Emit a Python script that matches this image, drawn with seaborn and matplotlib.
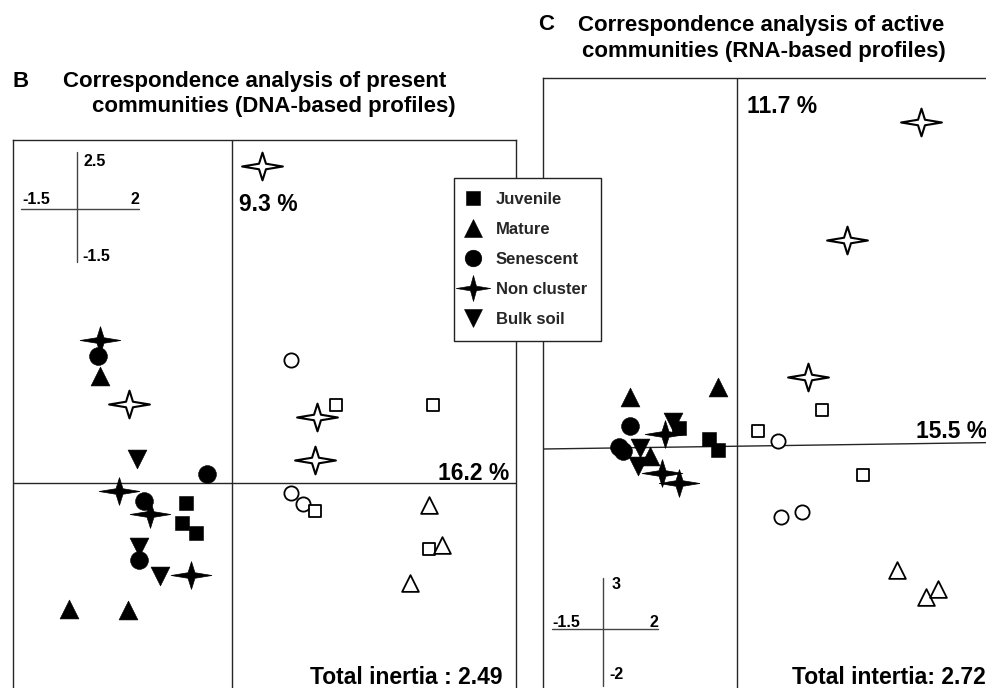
import matplotlib
matplotlib.use("Agg")
import numpy as np
import pandas as pd
import matplotlib.pyplot as plt
from matplotlib.path import Path
from matplotlib.lines import Line2D
import seaborn as sns

# ---------------- data ----------------
GROUPS = ["Juvenile", "Mature", "Senescent", "Non cluster", "Bulk soil"]

# Panel B : DNA-based profiles (CA axis 1 = 16.2 %, axis 2 = 9.3 %)
dna_group = ["Juvenile", "Juvenile", "Juvenile",
             "Mature", "Mature", "Mature",
             "Senescent", "Senescent", "Senescent", "Senescent",
             "Non cluster", "Non cluster", "Non cluster", "Non cluster",
             "Bulk soil", "Bulk soil", "Bulk soil",
             "Juvenile", "Juvenile", "Juvenile", "Juvenile",
             "Mature", "Mature", "Mature",
             "Senescent", "Senescent", "Senescent",
             "Non cluster", "Non cluster", "Non cluster", "Non cluster"]
dna_fill = ["filled"] * 17 + ["open"] * 14
dna_x = [-0.319, -0.350, -0.249,
         -0.930, -1.148, -0.730,
         -0.942, -0.178, -0.620, -0.653,
         -0.930, -0.794, -0.577, -0.284,
         -0.667, -0.653, -0.502,
         0.732, 1.413, 0.585, 1.387,
         1.389, 1.481, 1.254,
         0.413, 0.418, 0.502,
         0.213, -0.725, 0.596, 0.585]
dna_y = [-0.144, -0.290, -0.363,
         0.778, -0.917, -0.922,
         0.929, 0.069, -0.133, -0.562,
         1.040, -0.055, -0.222, -0.667,
         0.176, -0.468, -0.674,
         0.572, 0.567, -0.205, -0.479,
         -0.162, -0.448, -0.727,
         0.895, -0.071, -0.152,
         2.308, 0.579, 0.479, 0.171]

# Panel C : RNA-based profiles (CA axis 1 = 15.5 %, axis 2 = 11.7 %)
rna_group = ["Juvenile", "Juvenile", "Juvenile",
             "Mature", "Mature", "Mature",
             "Senescent", "Senescent", "Senescent",
             "Non cluster", "Non cluster", "Non cluster",
             "Bulk soil", "Bulk soil", "Bulk soil",
             "Juvenile", "Juvenile", "Juvenile",
             "Mature", "Mature", "Mature",
             "Senescent", "Senescent", "Senescent",
             "Non cluster", "Non cluster", "Non cluster"]
rna_fill = ["filled"] * 15 + ["open"] * 12
rna_x = [-0.451, -0.219, -0.149,
         -0.831, -0.146, -0.671,
         -0.831, -0.916, -0.882,
         -0.554, -0.580, -0.451,
         -0.753, -0.769, -0.495,
         0.655, 0.161, 0.971,
         1.234, 1.456, 1.552,
         0.316, 0.337, 0.500,
         1.422, 0.849, 0.544]
rna_y = [0.144, 0.055, -0.038,
         0.397, 0.479, -0.082,
         0.163, -0.006, -0.046,
         0.098, -0.223, -0.304,
         -0.019, -0.163, 0.198,
         0.293, 0.117, -0.236,
         -1.011, -1.233, -1.166,
         0.041, -0.584, -0.540,
         2.639, 1.679, 0.560]

dna_axis_pct = ["16.2 %", "9.3 %"]
rna_axis_pct = ["15.5 %", "11.7 %"]
dna_inertia = "Total inertia : 2.49"
rna_inertia = "Total intertia: 2.72"
dna_scale = ["2.5", "-1.5", "2", "-1.5"]
rna_scale = ["3", "-1.5", "2", "-2"]

# ---------------- style ----------------
sns.set_style("white")
plt.rcParams["font.family"] = ["Liberation Sans", "DejaVu Sans"]
plt.rcParams["font.weight"] = "bold"

W, H = 987, 688
fig = plt.figure(figsize=(W / 100, H / 100), dpi=100)
fig.patch.set_facecolor("white")


def F(px, py):
    return px / W, 1 - py / H


def star_path(inner=0.17, h=0.68):
    verts = [(1, 0), (inner, inner * 0.8), (0, h), (-inner, inner * 0.8),
             (-1, 0), (-inner, -inner * 0.8), (0, -h), (inner, -inner * 0.8), (1, 0)]
    codes = [Path.MOVETO] + [Path.LINETO] * 7 + [Path.CLOSEPOLY]
    return Path(verts, codes)


STAR = star_path()
STAR_LEG = star_path(0.17, 0.75)

STYLE = {
    ("Non cluster", "filled"): dict(marker=STAR, s=860, lw=0.5),
    ("Non cluster", "open"): dict(marker=STAR, s=860, lw=1.5),
    ("Senescent", "filled"): dict(marker="o", s=165, lw=0.4),
    ("Senescent", "open"): dict(marker="o", s=105, lw=1.3),
    ("Juvenile", "filled"): dict(marker="s", s=105, lw=0.4),
    ("Juvenile", "open"): dict(marker="s", s=80, lw=1.3),
    ("Mature", "filled"): dict(marker="^", s=185, lw=0.4),
    ("Mature", "open"): dict(marker="^", s=145, lw=1.3),
    ("Bulk soil", "filled"): dict(marker="v", s=185, lw=0.4),
    ("Bulk soil", "open"): dict(marker="v", s=145, lw=1.3),
}
DRAW_ORDER = ["Non cluster", "Senescent", "Juvenile", "Mature", "Bulk soil"]
LINE_C = "#262626"


def draw_panel(ax, df, xlim, ylim, hline=None):
    ax.set_xlim(*xlim)
    ax.set_ylim(*ylim)
    ax.set_xticks([])
    ax.set_yticks([])
    for sp in ax.spines.values():
        sp.set_color(LINE_C)
        sp.set_linewidth(1.0)
    ax.axvline(0, color=LINE_C, lw=1.0, zorder=1)
    if hline is None:
        ax.axhline(0, color=LINE_C, lw=1.0, zorder=1)
    else:
        ax.plot([0, 1], list(hline), transform=ax.transAxes, color=LINE_C, lw=1.0, zorder=1)
    for g in DRAW_ORDER:
        for fill in ["filled", "open"]:
            sub = df[(df["group"] == g) & (df["fill"] == fill)]
            if sub.empty:
                continue
            st = STYLE[(g, fill)]
            sns.scatterplot(data=sub, x="x", y="y", ax=ax, marker=st["marker"], s=st["s"],
                            color="black" if fill == "filled" else "white",
                            edgecolor="black", linewidth=st["lw"], legend=False, zorder=3)
    ax.set_xlabel("")
    ax.set_ylabel("")


dna = pd.DataFrame({"x": dna_x, "y": dna_y, "group": dna_group, "fill": dna_fill})
rna = pd.DataFrame({"x": rna_x, "y": rna_y, "group": rna_group, "fill": rna_fill})

# panel B axes: pixels x 13..516, y 140..689
axB = fig.add_axes([13 / W, 1 - 689 / H, 503 / W, 549 / H])
draw_panel(axB, dna, (-1.54, 2.0), (-1.5, 2.5))
# panel C axes: pixels x 543..996, y 78..691
axC = fig.add_axes([543 / W, 1 - 691 / H, 453 / W, 613 / H])
yl = (691 - 449) / 613
yr = (691 - 442.5) / 613
draw_panel(axC, rna, (-1.5, 2.0), (-2.0, 3.0), hline=(yl, yr))


def fline(p0, p1):
    x0, y0 = F(*p0)
    x1, y1 = F(*p1)
    fig.add_artist(Line2D([x0, x1], [y0, y1], transform=fig.transFigure,
                          color="#444444", lw=1.0))


def ftext(px, py, s, size, ha="left"):
    x, y = F(px, py)
    fig.text(x, y, s, fontsize=size, fontweight="bold", ha=ha, va="baseline", color="black")


# scale bars
fline((77, 152), (77, 262))
fline((21, 209), (139, 209))
ftext(84, 166, dna_scale[0], 11.5)
ftext(22, 204, dna_scale[1], 11.5)
ftext(139, 204, dna_scale[2], 11.5, ha="right")
ftext(82, 261, dna_scale[3], 11.5)

fline((603, 578), (603, 686))
fline((552, 629), (658, 629))
ftext(612, 589, rna_scale[0], 11.5)
ftext(552, 627, rna_scale[1], 11.5)
ftext(658, 627, rna_scale[2], 11.5, ha="right")
ftext(609, 679, rna_scale[3], 11.5)

# percentages / inertia
ftext(239, 211, dna_axis_pct[1], 16.5)
ftext(509, 480, dna_axis_pct[0], 16.5, ha="right")
ftext(503, 684, dna_inertia, 16.5, ha="right")
ftext(747, 113, rna_axis_pct[1], 16.5)
ftext(987, 438, rna_axis_pct[0], 16.5, ha="right")
ftext(986, 684, rna_inertia, 16.5, ha="right")

# titles
ftext(13, 87, "B", 16)
ftext(63, 87, "Correspondence analysis of present", 16)
ftext(92, 112, "communities (DNA-based profiles)", 16)
ftext(538, 30, "C", 16)
ftext(578, 31, "Correspondence analysis of active", 16)
ftext(582, 57, "communities (RNA-based profiles)", 16)

# legend
leg_markers = {"Juvenile": ("s", 10.5), "Mature": ("^", 12.5), "Senescent": ("o", 12),
               "Non cluster": (STAR_LEG, 25), "Bulk soil": ("v", 12.5)}
handles = [Line2D([], [], linestyle="none", marker=leg_markers[g][0], markersize=leg_markers[g][1],
                  markerfacecolor="black", markeredgecolor="black", markeredgewidth=0.4)
           for g in GROUPS]
leg = fig.legend(handles, GROUPS, loc="upper left", bbox_to_anchor=F(454, 178),
                 bbox_transform=fig.transFigure, frameon=True, fancybox=False,
                 edgecolor="#222222", framealpha=1, borderaxespad=0, borderpad=0.85,
                 handlelength=0.55, handletextpad=1.12, labelspacing=0.9,
                 prop={"size": 12, "weight": "bold"})
leg.get_frame().set_linewidth(1.0)
leg.set_zorder(10)

fig.savefig("out.png", dpi=100, facecolor="white")
